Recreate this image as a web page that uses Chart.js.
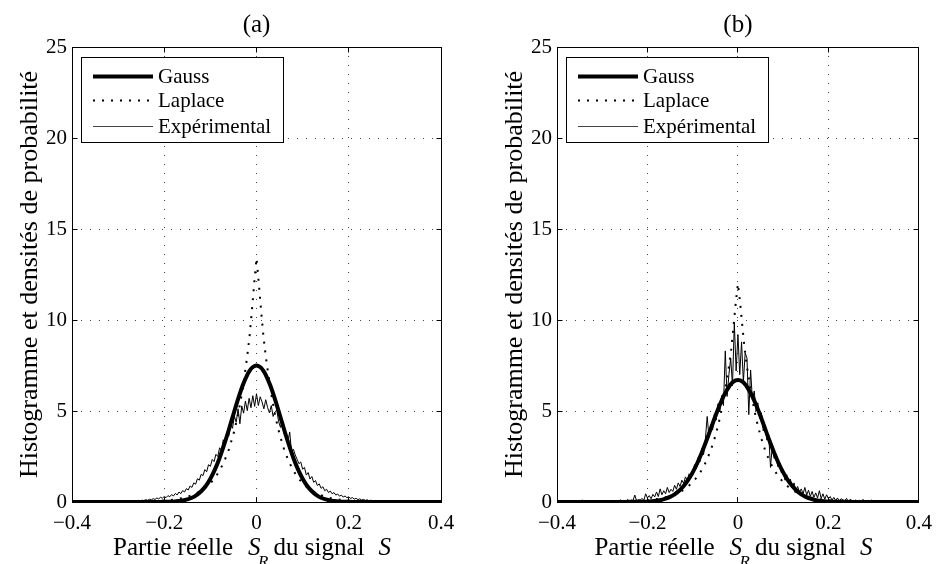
<!DOCTYPE html>
<html>
<head>
<meta charset="utf-8">
<script src="https://cdn.jsdelivr.net/npm/chart.js@4.4.0/dist/chart.umd.min.js"></script>
<style>
  html, body { margin: 0; padding: 0; background: #fff; }
  #wrap { position: relative; width: 941px; height: 564px; overflow: hidden; }
  .panel { position: absolute; top: 0; }
  #pa { left: 0; }
  #pb { left: 470px; }
</style>
</head>
<body>
<div id="wrap">
  <div class="panel" id="pa"><canvas id="chartA" width="470" height="564"></canvas></div>
  <div class="panel" id="pb"><canvas id="chartB" width="471" height="564"></canvas></div>
</div>
<script>
// x positions of the theoretical densities (shared by both panels)
const xSmooth = [-0.4, -0.3, -0.25, -0.22, -0.2, -0.19, -0.18, -0.17, -0.16, -0.15, -0.14, -0.13, -0.12,
  -0.11, -0.1, -0.09, -0.08, -0.07, -0.06, -0.05, -0.04, -0.03, -0.02, -0.015, -0.01, -0.005,
  0,
  0.005, 0.01, 0.015, 0.02, 0.03, 0.04, 0.05, 0.06, 0.07, 0.08, 0.09, 0.1, 0.11, 0.12, 0.13,
  0.14, 0.15, 0.16, 0.17, 0.18, 0.19, 0.2, 0.22, 0.25, 0.3, 0.4];

// panel (a)
const gaussA = [0, 0, 0, 0, 0.01, 0.01, 0.02, 0.05, 0.08, 0.14, 0.23, 0.38, 0.59, 0.88, 1.28, 1.79, 2.42,
  3.16, 3.97, 4.82, 5.65, 6.40, 6.99, 7.21, 7.37, 7.46,
  7.50,
  7.46, 7.37, 7.21, 6.99, 6.40, 5.65, 4.82, 3.97, 3.16, 2.42, 1.79, 1.28, 0.88, 0.59, 0.38, 0.23,
  0.14, 0.08, 0.05, 0.02, 0.01, 0.01, 0, 0, 0, 0];
const laplaceA = [0, 0.01, 0.02, 0.05, 0.08, 0.10, 0.13, 0.17, 0.22, 0.29, 0.37, 0.48, 0.62, 0.80, 1.03,
  1.33, 1.72, 2.23, 2.88, 3.72, 4.80, 6.21, 8.02, 9.12, 10.5, 12.0,
  13.4,
  12.0, 10.5, 9.12, 8.02, 6.21, 4.80, 3.72, 2.88, 2.23, 1.72, 1.33, 1.03, 0.80, 0.62, 0.48, 0.37,
  0.29, 0.22, 0.17, 0.13, 0.10, 0.08, 0.05, 0.02, 0.01, 0];
// histogram, bins every 0.004 from -0.3
const expStartA = -0.3;
const expA = [
  0.02, 0.03, 0.01, 0.04, 0.02, 0.05, 0.03, 0.06, 0.04, 0.07, 0.05, 0.09, 0.06, 0.10, 0.08, 0.13, 0.09, 0.15, 0.12, 0.18, 0.14, 0.22, 0.17, 0.26, 0.21,
  0.30, 0.24, 0.35, 0.29, 0.41, 0.33, 0.47, 0.39, 0.55, 0.46, 0.63, 0.55, 0.74, 0.66, 0.88, 0.80, 1.05, 0.98, 1.28, 1.20, 1.52, 1.45, 1.78, 1.66, 2.05,
  1.96, 2.34, 2.22, 2.62, 2.50, 2.98, 2.84, 3.42, 3.20, 3.78, 3.62, 4.35, 4.05, 4.72, 4.38, 5.12, 4.30, 5.28, 4.88, 5.55, 5.02, 5.70, 5.18, 5.84, 5.25,
  5.95,
  5.30, 5.78, 5.50, 5.12, 5.62, 5.20, 4.90, 5.30, 4.70, 4.95, 5.05, 4.42, 4.10, 4.50, 3.72, 3.80, 3.30, 3.85, 2.75, 2.90, 2.58, 2.35, 2.10, 2.20, 1.80,
  1.90, 1.48, 1.62, 1.26, 1.40, 1.08, 1.18, 0.90, 1.00, 0.75, 0.84, 0.62, 0.70, 0.52, 0.60, 0.45, 0.52, 0.38, 0.44, 0.32, 0.38, 0.27, 0.33, 0.24, 0.28,
  0.20, 0.24, 0.16, 0.20, 0.13, 0.17, 0.11, 0.14, 0.09, 0.12, 0.07, 0.10, 0.06, 0.08, 0.05, 0.06, 0.04, 0.05, 0.03, 0.04, 0.02, 0.03, 0.02, 0.02, 0.01
];

// panel (b)
const gaussB = [0, 0, 0, 0.01, 0.02, 0.04, 0.07, 0.11, 0.18, 0.28, 0.42, 0.62, 0.88, 1.21, 1.63, 2.13,
  2.71, 3.35, 4.03, 4.71, 5.34, 5.90, 6.33, 6.49, 6.61, 6.68,
  6.70,
  6.68, 6.61, 6.49, 6.33, 5.90, 5.34, 4.71, 4.03, 3.35, 2.71, 2.13, 1.63, 1.21, 0.88, 0.62, 0.42,
  0.28, 0.18, 0.11, 0.07, 0.04, 0.02, 0.01, 0, 0, 0];
const laplaceB = [0, 0.01, 0.03, 0.06, 0.10, 0.13, 0.16, 0.20, 0.26, 0.33, 0.42, 0.53, 0.67, 0.86, 1.09,
  1.39, 1.76, 2.24, 2.85, 3.62, 4.60, 5.85, 7.43, 8.37, 9.6, 10.9,
  12.0,
  10.9, 9.6, 8.37, 7.43, 5.85, 4.60, 3.62, 2.85, 2.24, 1.76, 1.39, 1.09, 0.86, 0.67, 0.53, 0.42,
  0.33, 0.26, 0.20, 0.16, 0.13, 0.10, 0.06, 0.03, 0.01, 0];
// histogram, bins every 0.004 from -0.4
const expStartB = -0.4;
const expB = [
  0.00, 0.02, 0.00, 0.04, 0.01, 0.00, 0.03, 0.00, 0.02, 0.06, 0.01, 0.00, 0.03, 0.01, 0.12, 0.00, 0.02, 0.04, 0.01, 0.03, 0.00, 0.05, 0.02, 0.01, 0.04,
  0.02, 0.06, 0.01, 0.08, 0.03, 0.05, 0.10, 0.02, 0.07, 0.04, 0.12, 0.05, 0.09, 0.03, 0.14, 0.06, 0.11, 0.08, 0.38, 0.07, 0.13, 0.10, 0.20, 0.09, 0.45,
  0.22, 0.35, 0.18, 0.42, 0.28, 0.55, 0.30, 0.72, 0.40, 0.62, 0.45, 0.80, 0.52, 0.70, 0.58, 0.92, 0.70, 1.05, 0.85, 1.20, 1.02, 1.38, 1.20, 1.55, 1.45,
  1.50, 2.05, 1.85, 2.45, 2.20, 2.95, 2.60, 3.45, 4.70, 3.55, 4.25, 3.95, 4.85, 4.50, 5.40, 4.95, 5.85, 5.30, 8.30, 5.80, 7.00, 7.90, 6.40, 9.85, 7.20,
  9.20,
  7.00, 8.80, 6.60, 8.20, 7.90, 4.80, 7.25, 5.60, 6.10, 5.00, 5.45, 4.60, 4.90, 3.90, 4.20, 3.40, 3.70, 1.90, 3.10, 2.40, 2.60, 1.95, 2.15, 1.60, 1.75,
  1.20, 1.50, 1.00, 1.25, 0.78, 1.05, 0.62, 0.85, 0.55, 0.72, 0.45, 0.80, 0.38, 0.65, 0.30, 0.58, 0.25, 0.50, 0.22, 0.62, 0.20, 0.45, 0.15, 0.40, 0.18,
  0.30, 0.10, 0.25, 0.08, 0.22, 0.05, 0.18, 0.12, 0.06, 0.20, 0.04, 0.15, 0.08, 0.02, 0.12, 0.05, 0.10, 0.03, 0.14, 0.06, 0.01, 0.09, 0.04, 0.11, 0.02,
  0.05, 0.00, 0.08, 0.03, 0.01, 0.06, 0.00, 0.10, 0.02, 0.04, 0.00, 0.07, 0.01, 0.03, 0.00, 0.05, 0.02, 0.00, 0.04, 0.01, 0.03, 0.00, 0.02, 0.01, 0.00
];
const binStep = 0.004;

const legendLabels = ['Gauss', 'Laplace', 'Expérimental'];
const yLabel = 'Histogramme et densités de probabilité';

const SERIF = '"Liberation Serif", "Times New Roman", serif';
Chart.defaults.font.family = SERIF;
Chart.defaults.color = '#000';

const styles = [
  { borderWidth: 4, borderDash: [], color: '#000' },
  { borderWidth: 2, borderDash: [2, 7], color: '#000' },
  { borderWidth: 1, borderDash: [], color: '#000' }
];

const al = v => Math.round(v - 0.5) + 0.5;

function fmtX(v) {
  const r = Math.round(v * 10) / 10;
  if (r === 0) return '0';
  return (r < 0 ? '\u2212' : '') + Math.abs(r);
}

function decor(title) {
  return {
    id: 'decor',
    afterDraw(chart) {
      const { ctx, chartArea: a, scales: { x, y } } = chart;
      const cx = (a.left + a.right) / 2;
      ctx.save();

      // legend
      const lx = a.left + 9, ly = a.top + 10, lw = 202, lh = 85;
      ctx.fillStyle = '#fff';
      ctx.fillRect(lx, ly, lw, lh);
      ctx.strokeStyle = '#000';
      ctx.lineWidth = 1;
      ctx.strokeRect(al(lx), al(ly), lw, lh);
      const rowY = [19, 43, 69];
      ctx.font = '21px ' + SERIF;
      ctx.textBaseline = 'middle';
      ctx.textAlign = 'left';
      legendLabels.forEach((lab, i) => {
        const s = styles[i];
        ctx.save();
        ctx.lineWidth = s.borderWidth;
        ctx.setLineDash(s.borderDash);
        ctx.strokeStyle = i === 2 ? '#444' : s.color;
        ctx.beginPath();
        ctx.moveTo(lx + 12, ly + rowY[i] + 0.5);
        ctx.lineTo(lx + 72, ly + rowY[i] + 0.5);
        ctx.stroke();
        ctx.restore();
        ctx.fillStyle = '#000';
        ctx.fillText(lab, lx + 77, ly + rowY[i] + 1);
      });

      // frame and inward ticks
      ctx.strokeStyle = '#000';
      ctx.lineWidth = 1;
      ctx.setLineDash([]);
      const L = al(a.left), R = al(a.right), T = al(a.top), B = al(a.bottom);
      ctx.strokeRect(L, T, R - L, B - T);
      ctx.beginPath();
      x.ticks.forEach(t => {
        const px = al(x.getPixelForValue(t.value));
        ctx.moveTo(px, B); ctx.lineTo(px, B - 5);
        ctx.moveTo(px, T); ctx.lineTo(px, T + 5);
      });
      y.ticks.forEach(t => {
        const py = al(y.getPixelForValue(t.value));
        ctx.moveTo(L, py); ctx.lineTo(L + 5, py);
        ctx.moveTo(R, py); ctx.lineTo(R - 5, py);
      });
      ctx.stroke();

      // title
      ctx.fillStyle = '#000';
      ctx.textAlign = 'center';
      ctx.textBaseline = 'alphabetic';
      ctx.font = '25px ' + SERIF;
      ctx.fillText(title, cx, 32);

      // x axis label: Partie réelle  S_R du signal  S
      const base = 555;
      ctx.textAlign = 'left';
      ctx.font = '25px ' + SERIF;
      ctx.fillText('Partie réelle', cx - 143.5, base);
      ctx.fillText('du signal', cx + 17, base);
      ctx.font = 'italic 25px ' + SERIF;
      ctx.fillText('S', cx - 8.5, base);
      ctx.fillText('S', cx + 122, base);
      ctx.font = 'italic 17px ' + SERIF;
      ctx.fillText('R', cx + 1.5, base + 12);

      // y axis label
      ctx.save();
      ctx.translate(a.left - 35, (a.top + a.bottom) / 2);
      ctx.rotate(-Math.PI / 2);
      ctx.textAlign = 'center';
      ctx.font = '26px ' + SERIF;
      ctx.fillText(yLabel, 0, 0);
      ctx.restore();

      ctx.restore();
    }
  };
}

function makeChart(id, title, gauss, laplace, exp, expStart, yWidth, padRight) {
  const smooth = arr => arr.map((v, i) => ({ x: xSmooth[i], y: v }));
  const hist = exp.map((v, i) => ({ x: expStart + i * binStep, y: v }));
  return new Chart(document.getElementById(id), {
    type: 'scatter',
    data: {
      datasets: [
        { label: legendLabels[0], data: smooth(gauss), showLine: true, pointRadius: 0,
          borderColor: '#000', borderWidth: styles[0].borderWidth, cubicInterpolationMode: 'monotone',
          borderJoinStyle: 'round' },
        { label: legendLabels[1], data: smooth(laplace), showLine: true, pointRadius: 0,
          borderColor: '#000', borderWidth: styles[1].borderWidth, borderDash: styles[1].borderDash, tension: 0 },
        { label: legendLabels[2], data: hist, showLine: true, pointRadius: 0,
          borderColor: '#000', borderWidth: styles[2].borderWidth, tension: 0 }
      ]
    },
    options: {
      responsive: false,
      animation: false,
      events: [],
      layout: { padding: { left: 0, top: 47, right: padRight, bottom: 0 } },
      plugins: { legend: { display: false }, tooltip: { enabled: false } },
      scales: {
        x: {
          type: 'linear', min: -0.4, max: 0.4,
          afterFit: s => { s.height = 62; },
          ticks: { stepSize: 0.2, padding: 9, maxRotation: 0, autoSkip: false,
                   font: { size: 21 }, color: '#000', callback: fmtX },
          grid: { color: '#444', lineWidth: 1, drawTicks: false },
          border: { display: false, dash: [1, 8] }
        },
        y: {
          min: 0, max: 25,
          afterFit: s => { s.width = yWidth; },
          ticks: { stepSize: 5, padding: 5, font: { size: 21 }, color: '#000' },
          grid: { color: '#444', lineWidth: 1, drawTicks: false },
          border: { display: false, dash: [1, 8] }
        }
      }
    },
    plugins: [decor(title)]
  });
}

makeChart('chartA', '(a)', gaussA, laplaceA, expA, expStartA, 72, 29);
makeChart('chartB', '(b)', gaussB, laplaceB, expB, expStartB, 87, 14);
</script>
</body>
</html>
